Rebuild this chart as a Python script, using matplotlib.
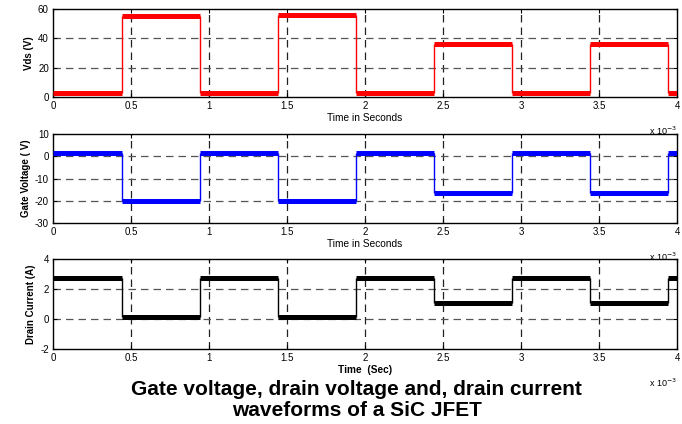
import numpy as np
import matplotlib
matplotlib.use("Agg")
import matplotlib.pyplot as plt

plt.rcParams["font.family"] = ["Liberation Sans", "DejaVu Sans"]
plt.rcParams["axes.unicode_minus"] = False

# switching instants (s) and plateau levels of the three waveforms
edges = [0, 0.44e-3, 0.94e-3, 1.44e-3, 1.94e-3, 2.44e-3, 2.94e-3, 3.44e-3, 3.94e-3, 4.0e-3]
vds = [3, 55.5, 3, 56, 3, 36, 3, 36, 3]
vgs = [1.5, -20, 1.5, -20, 1.5, -16.5, 1.5, -16.5, 1.5]
idrain = [2.75, 0.1, 2.75, 0.1, 2.75, 1.1, 2.75, 1.1, 2.75]

xticks = [0, 0.5e-3, 1e-3, 1.5e-3, 2e-3, 2.5e-3, 3e-3, 3.5e-3, 4e-3]
xticklabels = ["0", "0.5", "1", "1.5", "2", "2.5", "3", "3.5", "4"]

panels = [
    (vds, "#ff0000", [0, 60], [0, 20, 40, 60], "Vds (V)", "Time in Seconds", "normal"),
    (vgs, "#0000ff", [-30, 10], [-30, -20, -10, 0, 10], "Gate Voltage ( V)", "Time in Seconds", "normal"),
    (idrain, "#000000", [-2, 4], [-2, 0, 2, 4], "Drain Current (A)", "Time  (Sec)", "bold"),
]
boxes = [
    [0.0777, 0.771, 0.915, 0.2075],
    [0.0777, 0.474, 0.915, 0.210],
    [0.0777, 0.177, 0.915, 0.212],
]

fig = plt.figure(figsize=(6.82, 4.24), dpi=100)
for (levels, col, ylim, yt, ylab, xlab, xw), box in zip(panels, boxes):
    ax = fig.add_axes(box)
    e = np.array(edges)
    lv = np.array(levels)
    ax.hlines(lv, e[:-1], e[1:], colors=col, lw=3.6, zorder=3)
    ax.vlines(e[1:-1], lv[:-1], lv[1:], colors=col, lw=1.0, zorder=3)
    ax.set_xlim(0, 4e-3)
    ax.set_ylim(*ylim)
    ax.set_xticks(xticks)
    ax.set_xticklabels(xticklabels)
    ax.set_yticks(yt)
    for x in xticks[1:-1]:
        ax.axvline(x, color="#222222", lw=0.9, ls=(0, (6, 4)), zorder=1)
    for y in yt[1:-1]:
        ax.axhline(y, color="#555555", lw=0.9, ls=(0, (6, 4)), zorder=1)
    ax.tick_params(direction="in", length=3, width=0.8, labelsize=7,
                   top=True, right=True, pad=3)
    for s in ax.spines.values():
        s.set_linewidth(1.0)
    ax.set_ylabel(ylab, fontsize=7, fontweight="bold", labelpad=3)
    ax.set_xlabel(xlab, fontsize=7.3, fontweight=xw, labelpad=1)
    ax.text(1.0, -0.38, r"x 10$^{-3}$", transform=ax.transAxes,
            fontsize=6.5, ha="right", va="center")

fig.text(0.523, 0.082, "Gate voltage, drain voltage and, drain current",
         fontsize=15, fontweight="bold", ha="center", va="center")
fig.text(0.523, 0.033, "waveforms of a SiC JFET",
         fontsize=15, fontweight="bold", ha="center", va="center")

fig.savefig("out.png", dpi=100)
